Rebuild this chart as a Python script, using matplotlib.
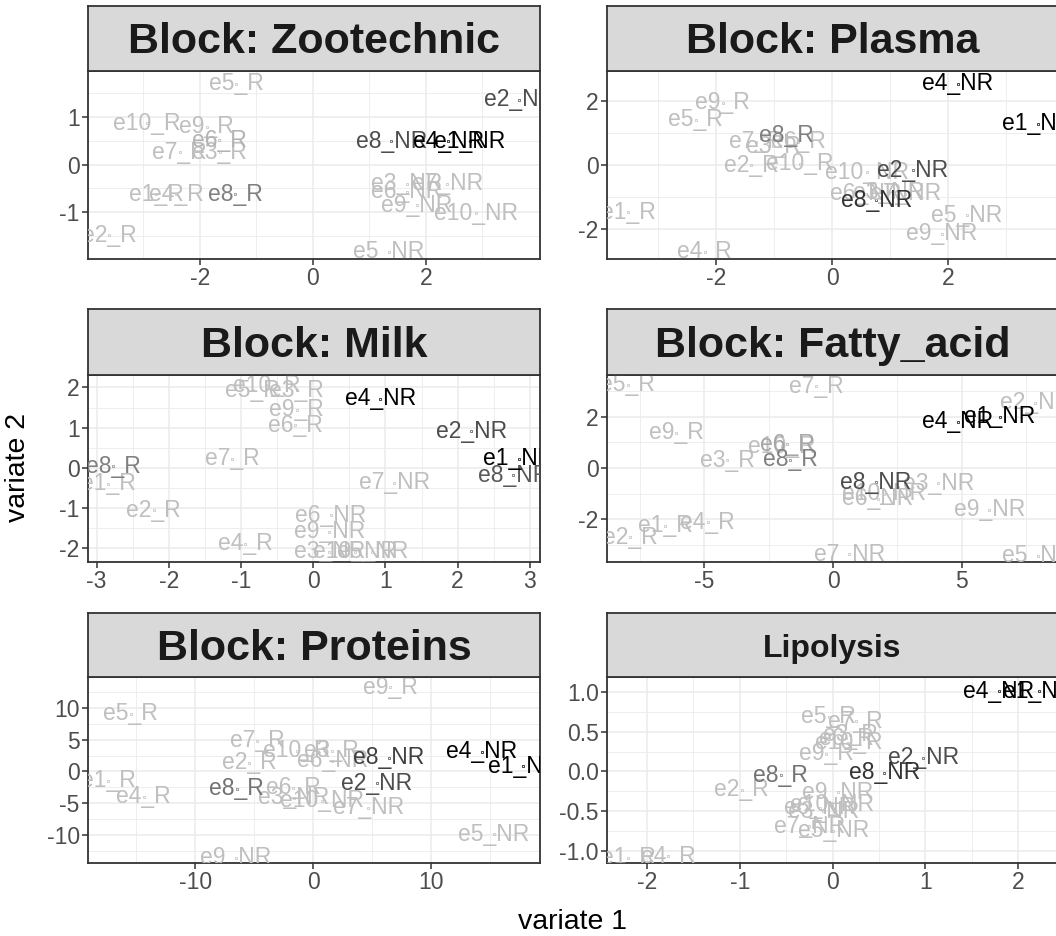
import matplotlib
matplotlib.use("Agg")
import matplotlib.pyplot as plt

plt.rcParams['font.family'] = ['Liberation Sans', 'DejaVu Sans']

labels = ["e1_R", "e2_R", "e3_R", "e4_R", "e5_R", "e6_R", "e7_R", "e8_R", "e9_R", "e10_R",
          "e1_NR", "e2_NR", "e3_NR", "e4_NR", "e5_NR", "e6_NR", "e7_NR", "e8_NR", "e9_NR", "e10_NR"]

titles = ["Block: Zootechnic", "Block: Plasma", "Block: Milk",
          "Block: Fatty_acid", "Block: Proteins", "Lipolysis"]

# ---- Zootechnic ----
zoo_x = [-2.77, -3.60, -1.65, -2.42, -1.36, -1.66, -2.36, -1.38, -1.88, -2.94,
         2.78, 3.65, 1.66, 2.40, 1.34, 1.66, 2.38, 1.39, 1.84, 2.89]
zoo_y = [-0.62, -1.48, 0.26, -0.62, 1.69, 0.51, 0.26, -0.62, 0.79, 0.86,
         0.49, 1.36, -0.40, 0.49, -1.83, -0.57, -0.40, 0.49, -0.85, -1.02]
zoo_shade = [0.75, 0.75, 0.75, 0.75, 0.75, 0.70, 0.75, 0.50, 0.75, 0.75,
             0.00, 0.30, 0.75, 0.00, 0.75, 0.75, 0.75, 0.30, 0.75, 0.75]

# ---- Plasma ----
pla_x = [-3.52, -1.40, -1.02, -2.20, -2.35, -0.59, -1.31, -0.79, -1.89, -0.56,
         3.54, 1.39, 0.98, 2.16, 2.32, 0.58, 1.26, 0.76, 1.89, 0.60]
pla_y = [-1.48, -0.02, 0.57, -2.73, 1.41, 0.71, 0.71, 0.92, 1.94, 0.03,
         1.28, -0.18, -0.88, 2.53, -1.58, -0.91, -0.91, -1.12, -2.16, -0.23]
pla_shade = [0.75, 0.75, 0.75, 0.75, 0.75, 0.75, 0.75, 0.50, 0.75, 0.75,
             0.00, 0.30, 0.75, 0.00, 0.75, 0.75, 0.75, 0.20, 0.75, 0.75]

# ---- Milk ----
mil_x = [-2.84, -2.21, -0.23, -0.94, -0.84, -0.25, -1.12, -2.77, -0.23, -0.65,
         2.85, 2.19, 0.22, 0.93, 0.82, 0.24, 1.12, 2.77, 0.22, 0.58]
mil_y = [-0.39, -1.05, 1.93, -1.88, 1.93, 1.06, 0.23, 0.04, 1.45, 2.05,
         0.23, 0.91, -2.09, 1.72, -2.09, -1.18, -0.37, -0.18, -1.59, -2.09]
mil_shade = [0.75, 0.75, 0.75, 0.75, 0.75, 0.75, 0.75, 0.50, 0.75, 0.75,
             0.00, 0.30, 0.75, 0.00, 0.75, 0.75, 0.75, 0.35, 0.75, 0.75]

# ---- Fatty_acid ----
fat_x = [-6.53, -7.89, -4.12, -4.88, -7.99, -1.79, -0.65, -1.66, -6.10, -1.98,
         6.48, 7.87, 4.09, 4.85, 7.96, 1.74, 0.63, 1.66, 6.08, 1.97]
fat_y = [-2.25, -2.70, 0.30, -2.12, 3.24, 0.93, 3.18, 0.33, 1.37, 0.85,
         2.00, 2.53, -0.59, 1.80, -3.42, -1.20, -3.36, -0.55, -1.63, -1.00]
fat_shade = [0.75, 0.75, 0.75, 0.75, 0.75, 0.65, 0.75, 0.50, 0.75, 0.75,
             0.00, 0.75, 0.75, 0.00, 0.75, 0.75, 0.75, 0.30, 0.75, 0.75]

# ---- Proteins ----
pro_x = [-17.37, -5.45, 1.56, -14.37, -15.45, -1.69, -4.77, -6.49, 6.53, -1.41,
         17.80, 5.37, -1.64, 14.27, 15.31, 1.61, 4.66, 6.41, -6.58, 0.74]
pro_y = [-1.47, 1.33, 3.27, -3.95, 9.07, -2.53, 4.85, -2.73, 13.20, 3.27,
         0.79, -1.83, -4.10, 3.06, -9.89, 1.69, -5.69, 2.12, -13.60, -4.63]
pro_shade = [0.75, 0.75, 0.75, 0.75, 0.75, 0.75, 0.75, 0.45, 0.75, 0.75,
             0.00, 0.30, 0.75, 0.00, 0.75, 0.75, 0.75, 0.25, 0.75, 0.75]

# ---- Lipolysis ----
lip_x = [-2.20, -0.98, 0.19, -1.77, -0.04, 0.15, 0.25, -0.56, -0.07, 0.17,
         2.22, 0.98, -0.10, 1.79, 0.01, -0.14, -0.25, 0.56, 0.06, -0.01]
lip_y = [-1.09, -0.23, 0.46, -1.07, 0.69, 0.42, 0.63, -0.05, 0.22, 0.36,
         1.01, 0.17, -0.50, 1.01, -0.75, -0.46, -0.69, -0.02, -0.26, -0.42]
lip_shade = [0.75, 0.75, 0.75, 0.75, 0.75, 0.75, 0.75, 0.45, 0.75, 0.75,
             0.00, 0.30, 0.75, 0.00, 0.75, 0.75, 0.75, 0.20, 0.75, 0.75]

blocks_x = [zoo_x, pla_x, mil_x, fat_x, pro_x, lip_x]
blocks_y = [zoo_y, pla_y, mil_y, fat_y, pro_y, lip_y]
blocks_shade = [zoo_shade, pla_shade, mil_shade, fat_shade, pro_shade, lip_shade]

xticks = [[-2, 0, 2], [-2, 0, 2], [-3, -2, -1, 0, 1, 2, 3], [-5, 0, 5], [-10, 0, 10], [-2, -1, 0, 1, 2]]
yticks = [[-1, 0, 1], [-2, 0, 2], [-2, -1, 0, 1, 2], [-2, 0, 2], [-10, -5, 0, 5, 10], [-1.0, -0.5, 0.0, 0.5, 1.0]]
ytick_labels = [["-1", "0", "1"], ["-2", "0", "2"], ["-2", "-1", "0", "1", "2"], ["-2", "0", "2"],
                ["-10", "-5", "0", "5", "10"], ["-1.0", "-0.5", "0.0", "0.5", "1.0"]]
xtick_labels = [["-2", "0", "2"], ["-2", "0", "2"], ["-3", "-2", "-1", "0", "1", "2", "3"],
                ["-5", "0", "5"], ["-10", "0", "10"], ["-2", "-1", "0", "1", "2"]]

# layout (figure fractions)
xlims = [(-3.98, 4.02), (-3.88, 3.89), (-3.12, 3.14), (-8.79, 8.75), (-19.07, 19.2), (-2.43, 2.43)]
ylims = [(-1.98, 1.96), (-2.95, 2.93), (-2.34, 2.31), (-3.66, 3.62), (-14.4, 14.85), (-1.155, 1.19)]

W, H = 1056, 936
col_x = [(88, 540), (607, 1058)]
row_y = [(6, 71, 259), (309, 375, 562), (613, 677, 863)]

fig = plt.figure(figsize=(W / 100, H / 100), dpi=100)

title_sizes = [31, 31, 31, 31, 31, 23]

for i in range(6):
    r, c = divmod(i, 2)
    x0, x1 = col_x[c]
    s0, p0, p1 = row_y[r]
    ax = fig.add_axes([x0 / W, (H - p1) / H, (x1 - x0) / W, (p1 - p0) / H])
    sax = fig.add_axes([x0 / W, (H - p0) / H, (x1 - x0) / W, (p0 - s0) / H])
    sax.set_facecolor('#D9D9D9')
    sax.set_xticks([]); sax.set_yticks([])
    for sp in sax.spines.values():
        sp.set_color('#333333'); sp.set_linewidth(1.3)
    sax.text(0.5, 0.44, titles[i], ha='center', va='center', fontsize=title_sizes[i],
             fontweight='bold', color='#1A1A1A', transform=sax.transAxes)

    ax.set_xlim(*xlims[i]); ax.set_ylim(*ylims[i])
    xt = xticks[i]; yt = yticks[i]
    ax.set_xticks(xt); ax.set_xticklabels(xtick_labels[i])
    ax.set_yticks(yt); ax.set_yticklabels(ytick_labels[i])
    dx = (xt[1] - xt[0]) / 2; dy = (yt[1] - yt[0]) / 2
    xmin = [xt[0] - dx + k * 2 * dx for k in range(len(xt) + 1)]
    ymin = [yt[0] - dy + k * 2 * dy for k in range(len(yt) + 1)]
    for v in xmin:
        ax.axvline(v, color='#EBEBEB', lw=0.6, zorder=0)
    for v in ymin:
        ax.axhline(v, color='#EBEBEB', lw=0.6, zorder=0)
    for v in xt:
        ax.axvline(v, color='#EBEBEB', lw=1.1, zorder=0)
    for v in yt:
        ax.axhline(v, color='#EBEBEB', lw=1.1, zorder=0)
    ax.tick_params(length=4, width=1.1, color='#333333', labelsize=16.5, labelcolor='#4D4D4D', pad=2)
    for sp in ax.spines.values():
        sp.set_color('#333333'); sp.set_linewidth(1.3)

    xs, ys, sh = blocks_x[i], blocks_y[i], blocks_shade[i]
    order = sorted(range(len(labels)), key=lambda k: -sh[k])
    for k in order:
        col = str(sh[k])
        ax.plot(xs[k], ys[k], marker='s', ms=1.6, mfc='none', mec=col, mew=0.5, zorder=3)
        ax.text(xs[k], ys[k], labels[k], ha='center', va='center', fontsize=16.5, color=col,
                clip_on=True, zorder=4)

fig.text(572 / W, (H - 922) / H, 'variate 1', ha='center', va='center', fontsize=20.5)
fig.text(18 / W, (H - 468) / H, 'variate 2', ha='center', va='center', fontsize=20.5, rotation=90)

fig.savefig('out.png', dpi=100)
